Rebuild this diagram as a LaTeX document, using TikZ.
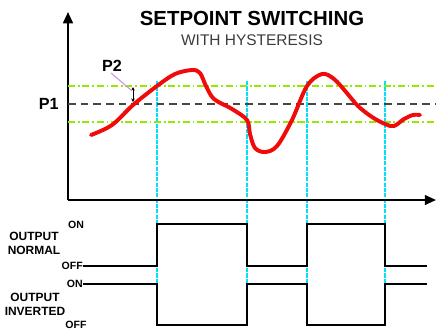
\documentclass[tikz,border=0pt]{standalone}
\usepackage{fontspec}
\setmainfont{Liberation Sans}
\usepackage{xcolor}
\definecolor{hystgreen}{RGB}{150,232,0}
\definecolor{switchcyan}{RGB}{0,225,250}
\definecolor{setgray}{RGB}{70,70,70}
\definecolor{pvred}{RGB}{240,10,10}
\definecolor{pointpink}{RGB}{205,150,235}
\definecolor{subgray}{RGB}{60,60,60}
\usetikzlibrary{arrows.meta}

\begin{document}
\begin{tikzpicture}[
    x=0.025cm, y=-0.025cm,
    >=Stealth,
    axis/.style={-{Triangle[length=8pt,width=7pt]}, line width=1.4pt},
    setline/.style={setgray, line width=1.6pt, dash pattern=on 5.5pt off 3.5pt},
    hyst/.style={hystgreen, line width=1pt, dash pattern=on 5pt off 2pt on 1.2pt off 2pt},
    switch/.style={switchcyan, line width=0.9pt, dash pattern=on 3pt off 0.8pt},
    signal/.style={pvred, line width=2.8pt, line cap=round, line join=round},
    pulse/.style={black, line width=1pt},
    levellabel/.style={font=\bfseries\fontsize{7.5}{8}\selectfont, inner sep=0pt},
    outlabel/.style={font=\bfseries\fontsize{8.5}{10}\selectfont, align=center, inner sep=0pt},
    plabel/.style={font=\bfseries\fontsize{11.5}{12}\selectfont, inner sep=0pt}
]
\useasboundingbox (0,0) rectangle (436,332);

% === Titulo ===
\node[font=\bfseries\fontsize{14.5}{16}\selectfont] (title) at (252,18) {SETPOINT SWITCHING};
\node[font=\fontsize{11}{12}\selectfont, subgray] (subtitle) at (252,40) {WITH HYSTERESIS};

% === Lineas de conmutacion ===
\foreach \t in {157,247,307,385}
    \draw[switch] (\t,81) -- (\t,326);

% === Ejes ===
\coordinate (O) at (68,200);
\draw[axis] (O) -- (68,12);
\draw[axis] (O) -- (436,200);

% === Setpoint e histeresis ===
\draw[hyst] (68,86) -- (436,86);
\draw[setline] (68,104) -- (436,104);
\draw[hyst] (68,122) -- (436,122);

\node[plabel, anchor=east] (P1) at (59,104) {P1};
\node[plabel] (P2) at (112,66) {P2};

% P2 = banda de histeresis
\coordinate (bandtop) at (133,87);
\coordinate (bandbot) at (133,102);
\draw[<->, >={Stealth[length=2.5pt,width=2.5pt]}, line width=0.6pt] (bandtop) -- (bandbot);
\draw[pointpink, line width=0.8pt] (111,73) -- (131,90);

% === Variable de proceso ===
\draw[signal] plot[smooth, tension=0.55] coordinates {
    (91,135) (112,125) (133,105) (157,86) (175,74) (192,70) (200,73)
    (206,86) (214,99) (232,109) (247,120) (250,134) (255,148) (265,152)
    (277,146) (292,120) (307,86) (322,74) (334,79) (346,92) (358,106)
    (372,117) (385,124) (394,126) (404,119) (413,115) (420,115)};

% === Salida normal ===
\node[levellabel] (nOn) at (76,225) {ON};
\node[levellabel, anchor=east] (nOff) at (83,266) {OFF};
\node[outlabel] (nOut) at (34,243) {OUTPUT\\NORMAL};
\draw[pulse] (nOff.east) -- (157,266) -- (157,224) -- (247,224) -- (247,266)
    -- (307,266) -- (307,224) -- (385,224) -- (385,266) -- (427,266);

% === Salida invertida ===
\node[levellabel, anchor=east] (iOn) at (83,284) {ON};
\node[levellabel] (iOff) at (76,325) {OFF};
\node[outlabel] (iOut) at (35,304) {OUTPUT\\INVERTED};
\draw[pulse] (iOn.east) -- (157,284) -- (157,325) -- (247,325) -- (247,284)
    -- (307,284) -- (307,325) -- (385,325) -- (385,284) -- (427,284);

\end{tikzpicture}
\end{document}
